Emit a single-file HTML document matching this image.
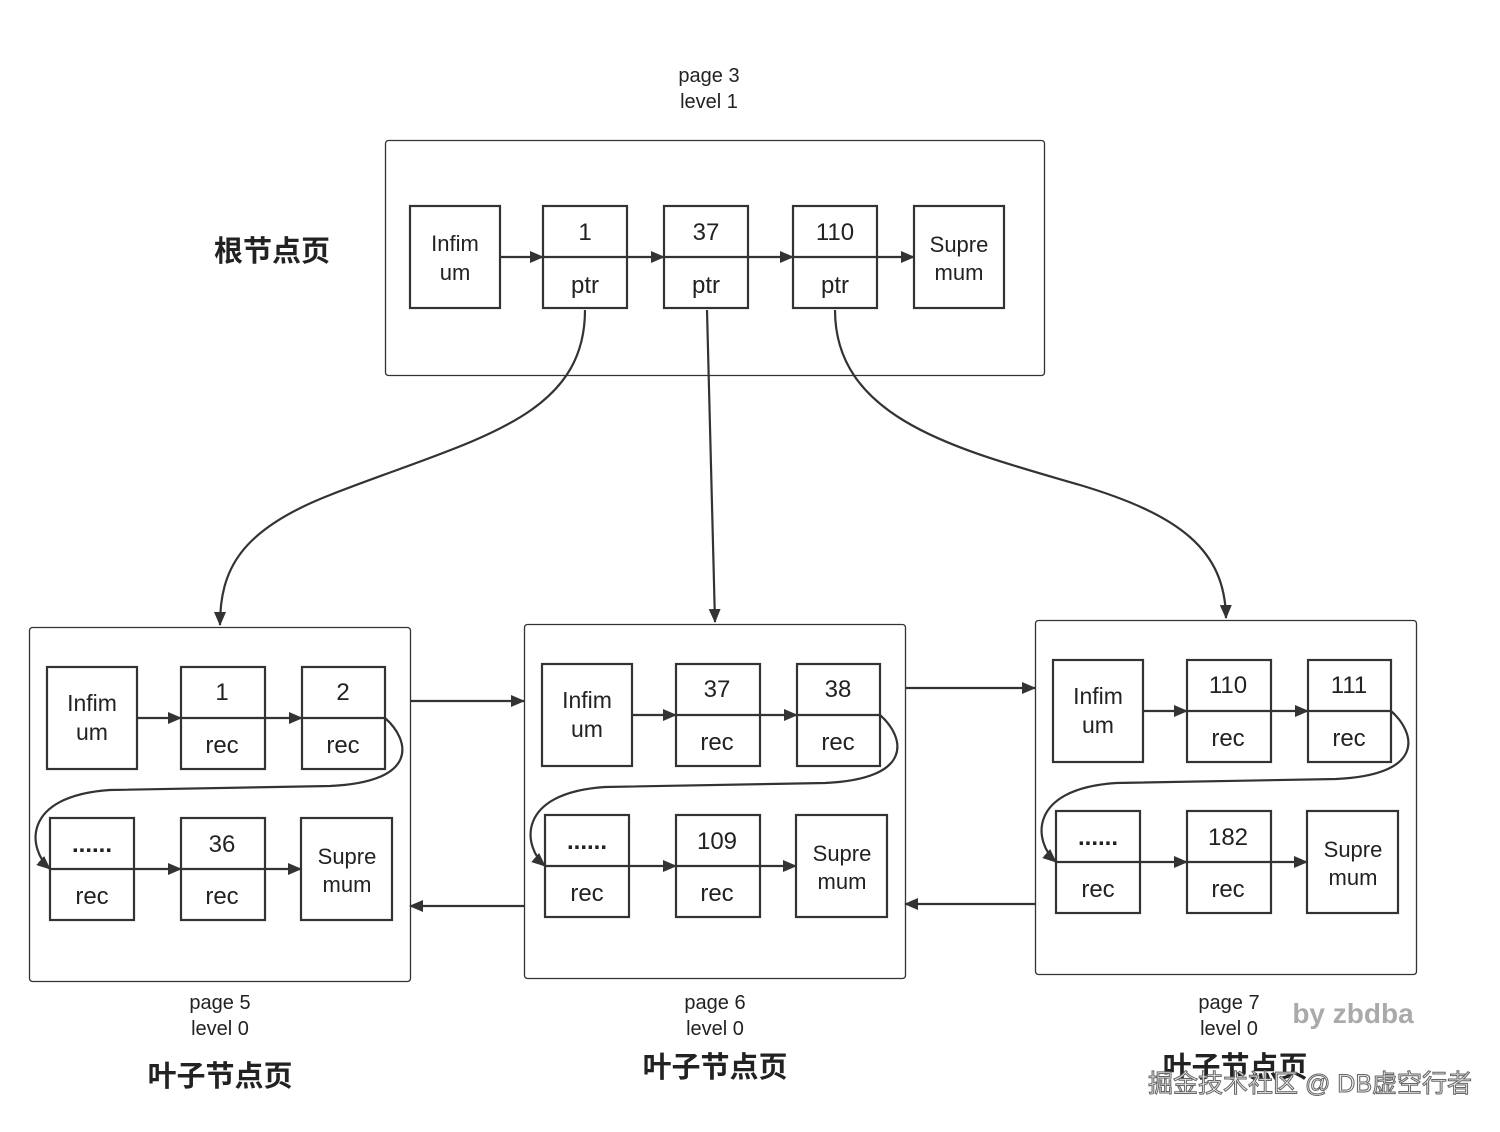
<!DOCTYPE html>
<html><head><meta charset="utf-8"><style>
body{margin:0;background:#fff}
svg text{font-family:"Liberation Sans","Noto Sans CJK SC",sans-serif;fill:#222;text-anchor:middle}
</style></head><body>
<svg width="1500" height="1127" viewBox="0 0 1500 1127" xmlns="http://www.w3.org/2000/svg">
<defs>
<marker id="a" markerWidth="14" markerHeight="12" refX="13" refY="6" orient="auto" markerUnits="userSpaceOnUse"><path d="M0,0 L14,6 L0,12 z" fill="#333"/></marker>
</defs>
<g fill="none" stroke="#333" stroke-width="2.2">
<rect x="385.5" y="140.5" width="659" height="235" rx="3" stroke-width="1.3"/>
<rect x="410" y="206" width="90" height="102"/>
<rect x="543" y="206" width="84" height="102"/><line x1="543" y1="257" x2="627" y2="257"/>
<rect x="664" y="206" width="84" height="102"/><line x1="664" y1="257" x2="748" y2="257"/>
<rect x="793" y="206" width="84" height="102"/><line x1="793" y1="257" x2="877" y2="257"/>
<rect x="914" y="206" width="90" height="102"/>
<line x1="500" y1="257" x2="543" y2="257" marker-end="url(#a)"/>
<line x1="627" y1="257" x2="664" y2="257" marker-end="url(#a)"/>
<line x1="748" y1="257" x2="793" y2="257" marker-end="url(#a)"/>
<line x1="877" y1="257" x2="914" y2="257" marker-end="url(#a)"/>
<path d="M585,310 C585,420 470,440 330,495 C240,530 220,570 220,625" marker-end="url(#a)"/>
<path d="M707,310 L715,622" marker-end="url(#a)"/>
<path d="M835,310 C835,420 960,450 1080,485 C1180,515 1225,550 1226,618" marker-end="url(#a)"/>
<line x1="410" y1="701" x2="524" y2="701" marker-end="url(#a)"/>
<line x1="905" y1="688" x2="1035" y2="688" marker-end="url(#a)"/>
<line x1="524" y1="906" x2="410" y2="906" marker-end="url(#a)"/>
<line x1="1035" y1="904" x2="905" y2="904" marker-end="url(#a)"/>
</g>
<text x="709" y="82" font-size="20">page 3</text>
<text x="709" y="108" font-size="20">level 1</text>
<text x="272" y="261" font-size="29" font-weight="bold">根节点页</text>
<g font-size="22">
<text x="455" y="251">Infim</text><text x="455" y="280">um</text>
<text x="585" y="240" font-size="24">1</text><text x="585" y="293" font-size="24">ptr</text>
<text x="706" y="240" font-size="24">37</text><text x="706" y="293" font-size="24">ptr</text>
<text x="835" y="240" font-size="24">110</text><text x="835" y="293" font-size="24">ptr</text>
<text x="959" y="252">Supre</text><text x="959" y="280">mum</text>
</g>

<g id="leaf">
<g fill="none" stroke="#333" stroke-width="2.2">
<rect x="29.5" y="627.5" width="381" height="354" rx="3" stroke-width="1.3"/>
<rect x="47" y="667" width="90" height="102"/>
<rect x="181" y="667" width="84" height="102"/><line x1="181" y1="718" x2="265" y2="718"/>
<rect x="302" y="667" width="83" height="102"/><line x1="302" y1="718" x2="385" y2="718"/>
<rect x="50" y="818" width="84" height="102"/><line x1="50" y1="869" x2="134" y2="869"/>
<rect x="181" y="818" width="84" height="102"/><line x1="181" y1="869" x2="265" y2="869"/>
<rect x="301" y="818" width="91" height="102"/>
<line x1="137" y1="718" x2="181" y2="718" marker-end="url(#a)"/>
<line x1="265" y1="718" x2="302" y2="718" marker-end="url(#a)"/>
<line x1="134" y1="869" x2="181" y2="869" marker-end="url(#a)"/>
<line x1="265" y1="869" x2="301" y2="869" marker-end="url(#a)"/>
<path d="M385,718 C410,740 420,782 330,786 L110,790 C20,796 28,850 50,869" marker-end="url(#a)"/>
</g>
<text x="92" y="711" font-size="23">Infim</text><text x="92" y="740" font-size="23">um</text>
<text x="92" y="852" font-size="24" font-weight="bold">......</text>
<text x="92" y="904" font-size="24">rec</text>
<text x="222" y="753" font-size="24">rec</text>
<text x="343" y="753" font-size="24">rec</text>
<text x="222" y="904" font-size="24">rec</text>
<text x="347" y="864" font-size="22">Supre</text><text x="347" y="892" font-size="22">mum</text>
</g>
<use href="#leaf" transform="translate(495,-3)"/>
<use href="#leaf" transform="translate(1006,-7)"/>
<g font-size="24">
<text x="222" y="700">1</text><text x="343" y="700">2</text><text x="222" y="852">36</text>
<text x="717" y="697">37</text><text x="838" y="697">38</text><text x="717" y="849">109</text>
<text x="1228" y="693">110</text><text x="1349" y="693">111</text><text x="1228" y="845">182</text>
</g>
<g font-size="20">
<text x="220" y="1009">page 5</text><text x="220" y="1035">level 0</text>
<text x="715" y="1009">page 6</text><text x="715" y="1035">level 0</text>
<text x="1229" y="1009">page 7</text><text x="1229" y="1035">level 0</text>
</g>
<text x="1353" y="1023" font-size="28" font-weight="bold" style="fill:#aaa">by zbdba</text>
<g font-size="29" font-weight="bold">
<text x="220" y="1086">叶子节点页</text>
<text x="715" y="1077">叶子节点页</text>
<text x="1235" y="1077">叶子节点页</text>
</g>
<text x="1310" y="1092" font-size="25" style="fill:#eee;stroke:#666;stroke-width:1">掘金技术社区 @ DB虚空行者</text>
</svg>
</body></html>
